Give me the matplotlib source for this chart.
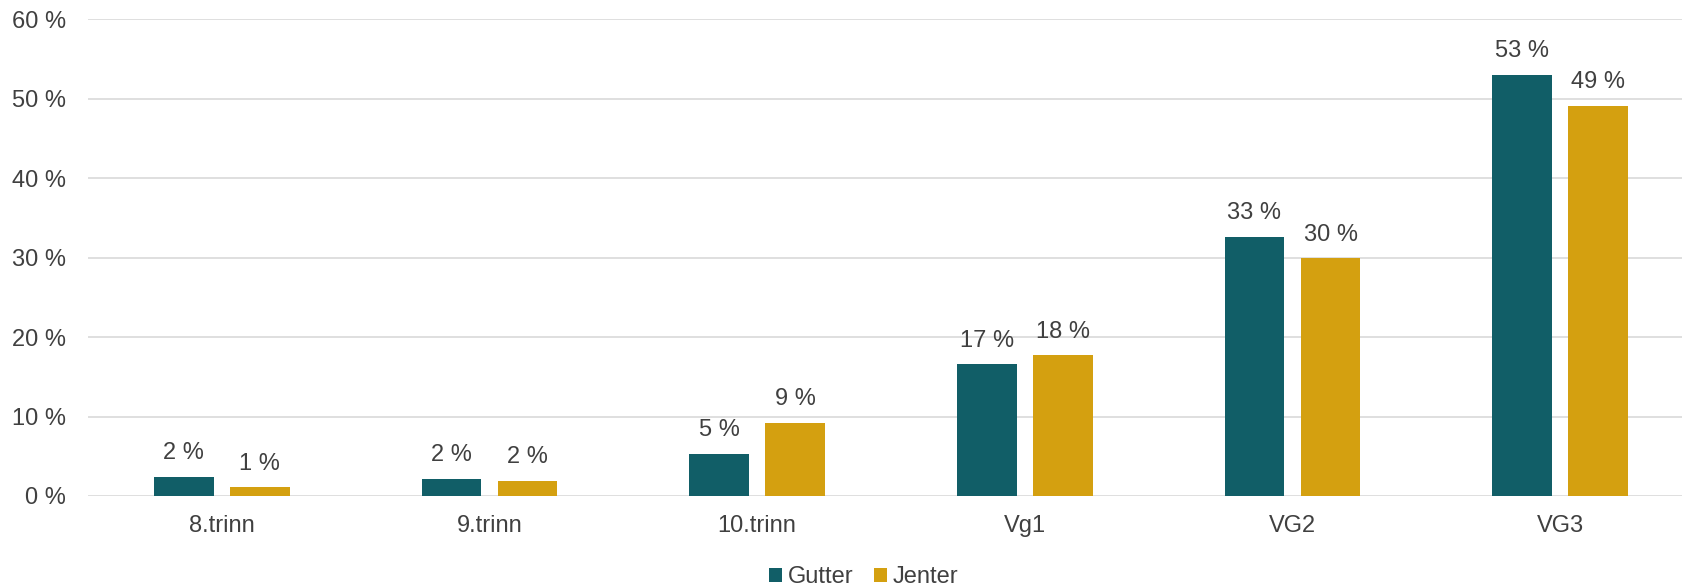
import matplotlib.pyplot as plt
import numpy as np

plt.rcParams['font.family'] = ['Liberation Sans', 'DejaVu Sans']
plt.rcParams['font.size'] = 17

categories = ['8.trinn', '9.trinn', '10.trinn', 'Vg1', 'VG2', 'VG3']
gutter = [2.4, 2.2, 5.3, 16.6, 32.6, 53.0]
jenter = [1.1, 1.9, 9.2, 17.7, 29.9, 49.1]

teal = '#115E67'
gold = '#D4A010'
text_col = '#404040'

fig = plt.figure(figsize=(16.82, 5.86), dpi=100)
# right edge of the plot area runs a little past the figure, as in the original
ax = fig.add_axes([88 / 1682, 1 - 496 / 586, (1694 - 88) / 1682, (496 - 19.3) / 586])

x = np.arange(len(categories))
w = 0.224
off = 0.142
b1 = ax.bar(x - off, gutter, w, color=teal, label='Gutter', zorder=3)
b2 = ax.bar(x + off, jenter, w, color=gold, label='Jenter', zorder=3)

for bars, vals in ((b1, gutter), (b2, jenter)):
    for b, v in zip(bars, vals):
        ax.annotate(f'{round(v)} %', (b.get_x() + b.get_width() / 2, v),
                    xytext=(0, 9), textcoords='offset points',
                    ha='center', va='bottom', color=text_col, fontsize=17)

ax.set_ylim(0, 60)
ax.set_xlim(-0.5, len(categories) - 0.5)
ax.set_yticks(range(0, 61, 10))
ax.set_yticklabels([f'{t} %' for t in range(0, 61, 10)])
ax.set_xticks(x)
ax.set_xticklabels(categories)
ax.tick_params(axis='both', length=0, colors=text_col, labelsize=17)
ax.tick_params(axis='y', pad=16)
ax.tick_params(axis='x', pad=14)
ax.grid(axis='y', color='#D9D9D9', linewidth=1.2, zorder=0)
for s in ax.spines.values():
    s.set_visible(False)

fig.legend(loc='center', bbox_to_anchor=(864 / 1682, 1 - 577 / 586), ncol=2, frameon=False,
           handlelength=0.55, handleheight=0.55, handletextpad=0.25, columnspacing=0.85,
           labelcolor=text_col, fontsize=17)

fig.savefig('out.png', dpi=100)
